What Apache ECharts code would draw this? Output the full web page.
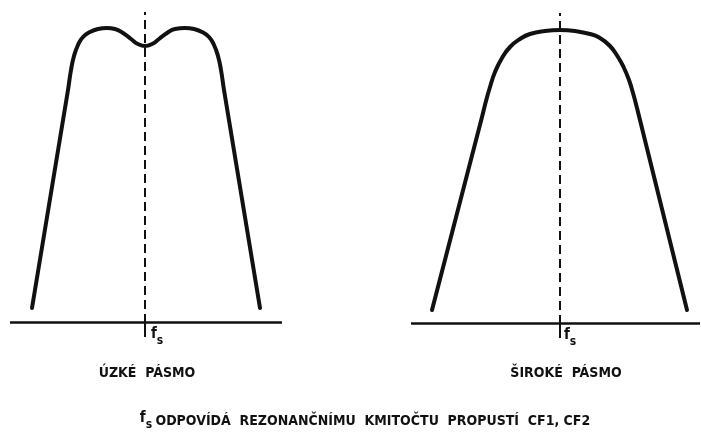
<!DOCTYPE html>
<html>
<head>
<meta charset="utf-8">
<script src="https://cdn.jsdelivr.net/npm/echarts@6/dist/echarts.min.js"></script>
<style>
  html, body { margin: 0; background: #fff; }
  #chart { width: 701px; height: 439px; }
</style>
</head>
<body>
<div id="chart"></div>
<script>
// detuning from fs (x) and response level (y)
const narrowX = [-113, -77, -74, -71, -67, -62, -55, -47, -38, -30, -22, -14, -7, 0, 7, 14, 22, 30, 40, 49, 57, 64, 69, 73, 76, 79, 115]
const narrowY = [14, 232, 252, 266, 277, 285, 290, 293, 294, 293, 289, 283, 278, 276, 278, 283, 289, 293, 294, 293, 290, 285, 277, 266, 252, 232, 14]
const wideX = [-128, -78, -74, -70, -65, -58, -50, -40, -30, -15, 0, 15, 30, 40, 50, 58, 64, 69, 73, 77, 127]
const wideY = [13, 206, 222, 236, 251, 265, 276, 284, 289, 292, 293, 292, 289, 285, 277, 266, 255, 243, 230, 215, 13]

const panelTitles = ['ÚZKÉ  PÁSMO', 'ŠIROKÉ  PÁSMO']
const caption = 'ODPOVÍDÁ  REZONANČNÍMU  KMITOČTU  PROPUSTÍ  CF1, CF2'

const ink = '#111'
const font = 'DejaVu Sans Condensed, Liberation Sans Narrow, sans-serif'

function pairs (xs, ys) {
  return xs.map((x, i) => [x, ys[i]])
}

function markLines () {
  return {
    silent: true,
    symbol: 'none',
    label: { show: false },
    data: [
      { yAxis: 0, lineStyle: { type: 'solid', width: 2.5, color: ink } },
      { xAxis: 0, lineStyle: { type: [9, 5], width: 2, color: ink } },
      [{ coord: [0, 0], lineStyle: { type: 'solid', width: 2, color: ink } }, { coord: [0, -15] }]
    ]
  }
}

function fsLabel (x, y) {
  return {
    type: 'text',
    left: x,
    top: y,
    style: {
      text: '{f|f}{s|s}',
      rich: {
        f: { fontSize: 15, fontWeight: 'bold', fontFamily: font, fill: ink, lineHeight: 20, verticalAlign: 'top' },
        s: { fontSize: 12, fontWeight: 'bold', fontFamily: font, fill: ink, lineHeight: 20, verticalAlign: 'bottom' }
      }
    }
  }
}

function curve (xi, xs, ys) {
  return {
    type: 'line',
    xAxisIndex: xi,
    yAxisIndex: xi,
    data: pairs(xs, ys),
    smooth: 0.5,
    showSymbol: false,
    lineStyle: { width: 4, color: ink, cap: 'round', join: 'round' },
    markLine: markLines()
  }
}

const chart = echarts.init(document.getElementById('chart'))
chart.setOption({
  animation: false,
  backgroundColor: '#fff',
  grid: [
    { left: 10, width: 272, top: 12, height: 325 },
    { left: 411, width: 289, top: 13, height: 325 }
  ],
  xAxis: [
    { type: 'value', gridIndex: 0, min: -135, max: 137, show: false },
    { type: 'value', gridIndex: 1, min: -149, max: 140, show: false }
  ],
  yAxis: [
    { type: 'value', gridIndex: 0, min: -15, max: 310, show: false },
    { type: 'value', gridIndex: 1, min: -15, max: 310, show: false }
  ],
  series: [
    curve(0, narrowX, narrowY),
    curve(1, wideX, wideY)
  ],
  graphic: [
    fsLabel(151, 327),
    fsLabel(564, 328),
    {
      type: 'text',
      x: 147,
      y: 373,
      style: { text: panelTitles[0], fontSize: 14, fontWeight: 'bold', fontFamily: font, fill: ink, align: 'center', verticalAlign: 'middle' }
    },
    {
      type: 'text',
      x: 566,
      y: 373,
      style: { text: panelTitles[1], fontSize: 14, fontWeight: 'bold', fontFamily: font, fill: ink, align: 'center', verticalAlign: 'middle' }
    },
    {
      type: 'text',
      x: 365,
      y: 421,
      style: {
        text: '{f|f}{s|s} {t|' + caption + '}',
        align: 'center',
        verticalAlign: 'middle',
        rich: {
          f: { fontSize: 15, fontWeight: 'bold', fontFamily: font, fill: ink, lineHeight: 20, verticalAlign: 'top' },
          s: { fontSize: 12, fontWeight: 'bold', fontFamily: font, fill: ink, lineHeight: 20, verticalAlign: 'bottom' },
          t: { fontSize: 14, fontWeight: 'bold', fontFamily: font, fill: ink, lineHeight: 20 }
        }
      }
    }
  ]
})
</script>
</body>
</html>
